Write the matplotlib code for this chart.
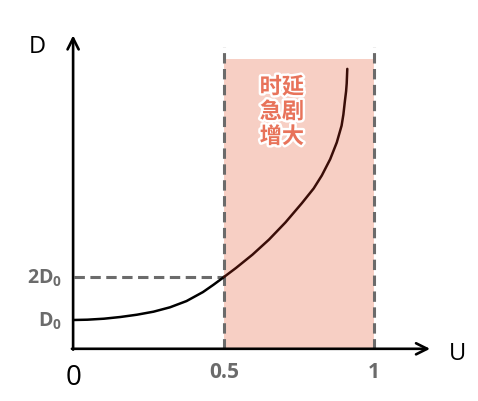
import numpy as np
import matplotlib
matplotlib.use("Agg")
import matplotlib.pyplot as plt
import matplotlib.patheffects as pe

# Curve D(U) (D in units of D0)
u_vals = [0.0, 0.045, 0.10, 0.155, 0.21, 0.265, 0.32, 0.375, 0.43, 0.465, 0.50, 0.54, 0.595,
          0.65, 0.705, 0.76, 0.799, 0.826, 0.854, 0.876, 0.892, 0.898, 0.903, 0.907, 0.909, 0.911]
d_vals = [1.0, 1.007, 1.03, 1.07, 1.123, 1.193, 1.295, 1.44, 1.65, 1.82, 2.00, 2.21, 2.52,
          2.87, 3.27, 3.72, 4.06, 4.36, 4.74, 5.13, 5.52, 5.78, 6.09, 6.32, 6.50, 6.84]

# Tick labels
x_ticks = [0.5, 1.0]
x_tick_labels = ["0.5", "1"]
y_ticks = [1.0, 2.0]
y_tick_labels = [r"$\mathbf{D}_\mathbf{0}$", r"$\mathbf{2D}_\mathbf{0}$"]

region = (0.5, 1.0)
region_text = "时延\n急剧\n增大"

plt.rcParams['mathtext.fontset'] = 'custom'
plt.rcParams['mathtext.rm'] = 'Open Sans'
plt.rcParams['mathtext.bf'] = 'Open Sans:bold'

fig = plt.figure(figsize=(4.78, 4.02), dpi=100)
ax = fig.add_axes([0, 0, 1, 1])
ax.set_xlim(-0.2467, 1.3467)
ax.set_ylim(-0.884, 8.465)
ax.axis('off')

base = 0.33      # where the U axis sits
top_shade = 7.07
top_dash = 7.35
gray = '#6b6b6b'

# shaded region
ax.fill_between(region, base, top_shade, color='#f7cfc4', lw=0, zorder=1)

# dashed guide lines
for xv in region:
    ax.plot([xv, xv], [base, top_dash], color=gray, lw=2.2,
            linestyle=(0, (3.4, 1.8)), zorder=2)
ax.plot([0, 0.5], [2.0, 2.0], color=gray, lw=2.2, linestyle=(0, (3.4, 1.8)), zorder=2)

# curve: black outside, darker brown over the pink zone
u = np.array(u_vals)
d = np.array(d_vals)
m = u <= 0.5
ax.plot(u[m], d[m], color='black', lw=1.8, zorder=3, solid_capstyle='round',
        solid_joinstyle='round')
m2 = u >= 0.5
ax.plot(u[m2], d[m2], color='#3a0e08', lw=1.8, zorder=3, solid_capstyle='round',
        solid_joinstyle='round')

# axes with arrows
arrow = dict(arrowstyle='->', lw=1.9, color='black', mutation_scale=20,
             shrinkA=0, shrinkB=0)
ax.annotate('', xy=(1.187, base), xytext=(-0.007, base), arrowprops=arrow, zorder=4)
ax.annotate('', xy=(-0.003, 7.62), xytext=(-0.003, base - 0.02), arrowprops=arrow, zorder=4)

# tick labels
for xv, lab in zip(x_ticks, x_tick_labels):
    ax.text(xv, -0.2, lab, ha='center', va='center', fontsize=15,
            fontweight='bold', color=gray, family='Open Sans')
for yv, lab in zip(y_ticks, y_tick_labels):
    ax.text(-0.04, yv, lab, ha='right', va='center', fontsize=14,
            color=gray)
ax.text(0.0, -0.33, "0", ha='center', va='center', fontsize=20, color='black',
        family='Open Sans')

# axis names
ax.text(-0.123, 7.37, "D", ha='center', va='center', fontsize=17, family='Open Sans')
ax.text(1.28, 0.23, "U", ha='center', va='center', fontsize=17, family='Open Sans')

# annotation inside the region
ax.text(0.693, 5.84, region_text, ha='center', va='center', fontsize=16,
        fontweight='bold', color='#e8735a', linespacing=1.1,
        family=['Noto Sans CJK SC', 'DejaVu Sans'], zorder=5,
        path_effects=[pe.withStroke(linewidth=3.5, foreground='white')])

fig.savefig('out.png', dpi=100)
